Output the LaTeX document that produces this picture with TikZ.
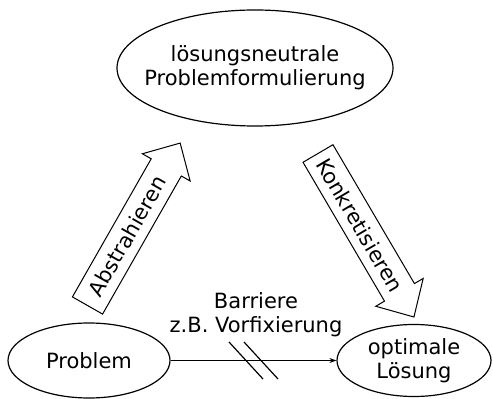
\documentclass[tikz,border=0pt]{standalone}
\usepackage{fontspec}
\setmainfont{DejaVu Sans}
\usetikzlibrary{shapes.geometric,arrows.meta,calc}
\begin{document}
\begin{tikzpicture}[x=1pt,y=1pt,
  every node/.style={font=\fontsize{21}{24}\selectfont},
  oval/.style={ellipse, draw, line width=1.2pt, inner sep=0pt},
  ovaltext/.style={align=center, inner sep=0pt},
  blockarrow/.style={draw, line width=1pt, fill=white, line join=miter},
  slash/.style={line width=1.2pt}]
\useasboundingbox (0,0) rectangle (493,399);
\node[oval, minimum width=276, minimum height=116] (top) at (255,331) {};
\node[ovaltext] (toptext) at (top.center) {lösungsneutrale\\Problemformulierung};
\node[oval, minimum width=162, minimum height=75] (prob) at (89,38.5) {};
\node[ovaltext] (probtext) at (prob.center) {Problem};
\node[oval, minimum width=154, minimum height=72] (opt) at (414,38.5) {};
\node[ovaltext] (opttext) at (opt.center) {optimale\\Lösung};
\begin{scope}[shift={(87.5,93.5)}, rotate=60.3]
  \draw[blockarrow] (0,-17.35) -- (159,-17.35) -- (159,-27.5) -- (187,0) -- (159,27.5) -- (159,17.35) -- (0,17.35) -- cycle;
  \node[rotate=60.3] (abs) at (80,0) {Abstrahieren};
\end{scope}
\begin{scope}[shift={(318,245.5)}, rotate=-59.6]
  \draw[blockarrow] (0,-17.35) -- (161,-17.35) -- (161,-27.5) -- (189.6,0) -- (161,27.5) -- (161,17.35) -- (0,17.35) -- cycle;
  \node[rotate=-59.6] (konk) at (83,0) {Konkretisieren};
\end{scope}
\node[align=center] (barr) at (256,84) {Barriere\\z.B. Vorfixierung};
\draw[-{Stealth[length=7pt,width=5pt]}, line width=1pt] (prob.east) -- (opt.west);
\coordinate (bar) at ($(prob.east)!0.5!(opt.west)$);
\draw[slash] ($(bar)+(-24.5,18.5)$) -- ($(bar)+(9.5,-18.5)$);
\draw[slash] ($(bar)+(-9.5,18.5)$) -- ($(bar)+(24.5,-18.5)$);
\end{tikzpicture}
\end{document}
